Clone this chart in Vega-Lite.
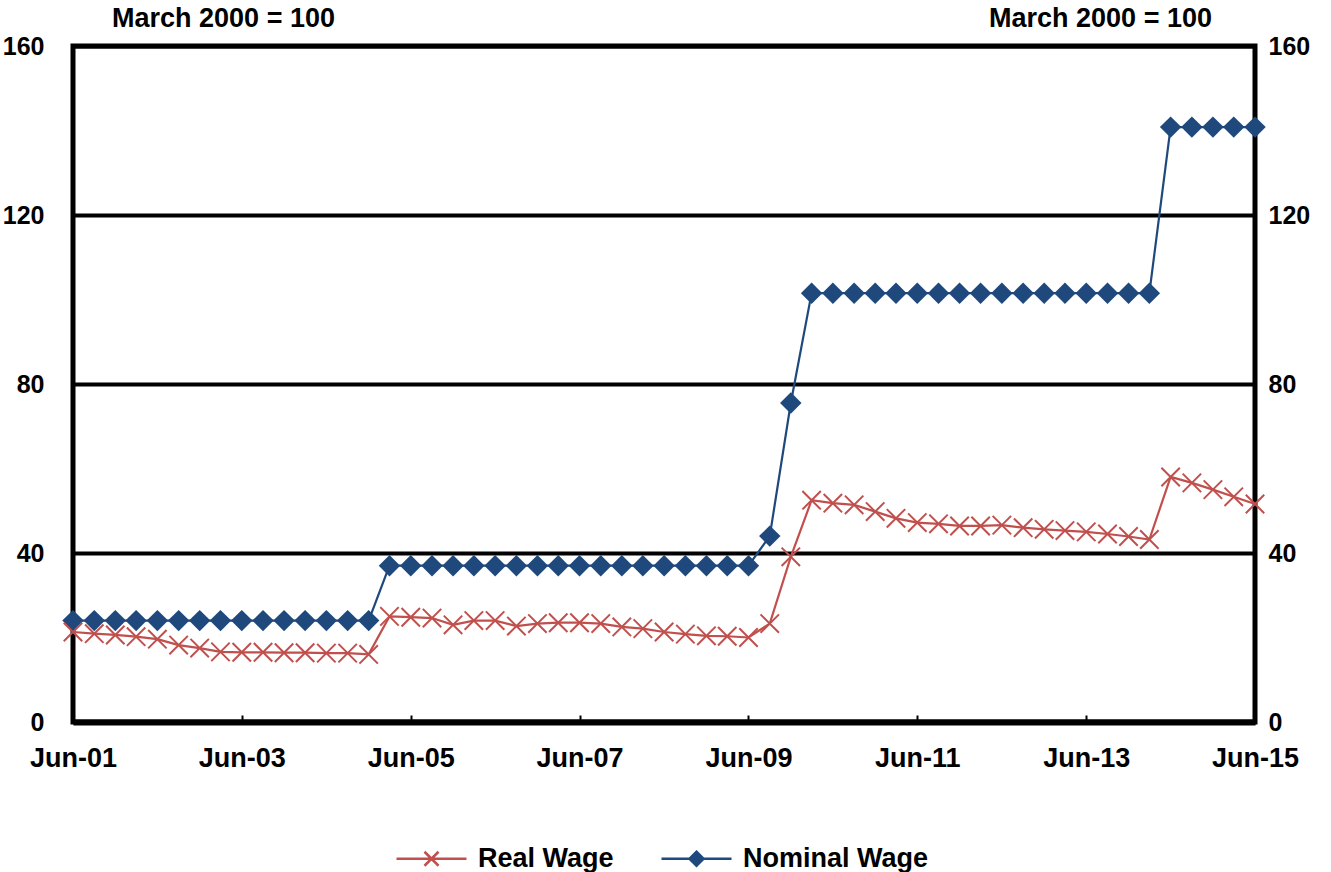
{
  "$schema": "https://vega.github.io/schema/vega-lite/v6.json",
  "width": 1182,
  "height": 676,
  "autosize": {"type": "none"},
  "padding": {"left": 73, "top": 46, "right": 76, "bottom": 150},
  "background": "white",
  "config": {
    "view": {"stroke": "black", "strokeWidth": 5},
    "font": "Liberation Sans",
    "axis": {"labelFont": "Liberation Sans", "labelFontWeight": "bold", "labelFontSize": 27, "labelColor": "black", "titleFont": "Liberation Sans", "titleFontWeight": "bold", "titleFontSize": 27, "titleColor": "black"}
  },
  "datasets": {
    "wages": [
      {"date": "2001/06/01", "real": 21.3, "nominal": 24},
      {"date": "2001/09/01", "real": 20.9, "nominal": 24},
      {"date": "2001/12/01", "real": 20.6, "nominal": 24},
      {"date": "2002/03/01", "real": 20.2, "nominal": 24},
      {"date": "2002/06/01", "real": 19.6, "nominal": 24},
      {"date": "2002/09/01", "real": 18.2, "nominal": 24},
      {"date": "2002/12/01", "real": 17.5, "nominal": 24},
      {"date": "2003/03/01", "real": 16.6, "nominal": 24},
      {"date": "2003/06/01", "real": 16.5, "nominal": 24},
      {"date": "2003/09/01", "real": 16.5, "nominal": 24},
      {"date": "2003/12/01", "real": 16.4, "nominal": 24},
      {"date": "2004/03/01", "real": 16.4, "nominal": 24},
      {"date": "2004/06/01", "real": 16.3, "nominal": 24},
      {"date": "2004/09/01", "real": 16.3, "nominal": 24},
      {"date": "2004/12/01", "real": 16.0, "nominal": 24},
      {"date": "2005/03/01", "real": 25.0, "nominal": 37},
      {"date": "2005/06/01", "real": 24.8, "nominal": 37},
      {"date": "2005/09/01", "real": 24.6, "nominal": 37},
      {"date": "2005/12/01", "real": 23.0, "nominal": 37},
      {"date": "2006/03/01", "real": 24.0, "nominal": 37},
      {"date": "2006/06/01", "real": 24.0, "nominal": 37},
      {"date": "2006/09/01", "real": 22.7, "nominal": 37},
      {"date": "2006/12/01", "real": 23.3, "nominal": 37},
      {"date": "2007/03/01", "real": 23.5, "nominal": 37},
      {"date": "2007/06/01", "real": 23.5, "nominal": 37},
      {"date": "2007/09/01", "real": 23.3, "nominal": 37},
      {"date": "2007/12/01", "real": 22.5, "nominal": 37},
      {"date": "2008/03/01", "real": 22.1, "nominal": 37},
      {"date": "2008/06/01", "real": 21.3, "nominal": 37},
      {"date": "2008/09/01", "real": 20.8, "nominal": 37},
      {"date": "2008/12/01", "real": 20.4, "nominal": 37},
      {"date": "2009/03/01", "real": 20.3, "nominal": 37},
      {"date": "2009/06/01", "real": 20.0, "nominal": 37},
      {"date": "2009/09/01", "real": 23.3, "nominal": 44},
      {"date": "2009/12/01", "real": 39.1, "nominal": 75.5},
      {"date": "2010/03/01", "real": 52.5, "nominal": 101.5},
      {"date": "2010/06/01", "real": 51.8, "nominal": 101.5},
      {"date": "2010/09/01", "real": 51.4, "nominal": 101.5},
      {"date": "2010/12/01", "real": 49.8, "nominal": 101.5},
      {"date": "2011/03/01", "real": 48.2, "nominal": 101.5},
      {"date": "2011/06/01", "real": 47.2, "nominal": 101.5},
      {"date": "2011/09/01", "real": 46.9, "nominal": 101.5},
      {"date": "2011/12/01", "real": 46.4, "nominal": 101.5},
      {"date": "2012/03/01", "real": 46.4, "nominal": 101.5},
      {"date": "2012/06/01", "real": 46.6, "nominal": 101.5},
      {"date": "2012/09/01", "real": 46.0, "nominal": 101.5},
      {"date": "2012/12/01", "real": 45.6, "nominal": 101.5},
      {"date": "2013/03/01", "real": 45.3, "nominal": 101.5},
      {"date": "2013/06/01", "real": 45.0, "nominal": 101.5},
      {"date": "2013/09/01", "real": 44.5, "nominal": 101.5},
      {"date": "2013/12/01", "real": 43.9, "nominal": 101.5},
      {"date": "2014/03/01", "real": 43.2, "nominal": 101.5},
      {"date": "2014/06/01", "real": 58.0, "nominal": 140.8},
      {"date": "2014/09/01", "real": 56.6, "nominal": 140.8},
      {"date": "2014/12/01", "real": 55.0, "nominal": 140.8},
      {"date": "2015/03/01", "real": 53.3, "nominal": 140.8},
      {"date": "2015/06/01", "real": 51.6, "nominal": 140.8}
    ]
  },
  "data": {"name": "wages"},
  "encoding": {
    "x": {
      "field": "date",
      "type": "temporal",
      "scale": {"domain": [{"year": 2001, "month": 6, "date": 1}, {"year": 2015, "month": 6, "date": 1}], "nice": false},
      "axis": {
        "title": null,
        "format": "%b-%y",
        "values": [
          {"year": 2001, "month": 6, "date": 1},
          {"year": 2003, "month": 6, "date": 1},
          {"year": 2005, "month": 6, "date": 1},
          {"year": 2007, "month": 6, "date": 1},
          {"year": 2009, "month": 6, "date": 1},
          {"year": 2011, "month": 6, "date": 1},
          {"year": 2013, "month": 6, "date": 1},
          {"year": 2015, "month": 6, "date": 1}
        ],
        "grid": false,
        "domainColor": "black",
        "domainWidth": 6,
        "ticks": true,
        "tickSize": -7,
        "tickWidth": 2,
        "tickColor": "black",
        "labelPadding": 30,
        "labelFlush": false,
        "labelOverlap": false,
        "labelBound": false
      }
    }
  },
  "layer": [
    {
      "transform": [{"fold": ["real", "nominal"], "as": ["key", "value"]}, {"calculate": "datum.key === 'real' ? 'Real Wage' : 'Nominal Wage'", "as": "series"}],
      "mark": {"type": "line", "strokeWidth": 2.2},
      "encoding": {
        "y": {
          "field": "value",
          "type": "quantitative",
          "scale": {"domain": [0, 160], "nice": false},
          "axis": {
            "orient": "left",
            "values": [0, 40, 80, 120, 160],
            "grid": true,
            "gridColor": "black",
            "gridWidth": 4,
            "gridOpacity": 1,
            "domain": false,
            "ticks": false,
            "labelFontSize": 25,
            "labelPadding": 29,
            "labelBaseline": "middle",
            "title": "March 2000 = 100",
            "titleAngle": 0,
            "titleX": 150,
            "titleY": -28,
            "titleAlign": "center",
            "titleBaseline": "middle"
          }
        },
        "color": {
          "field": "series",
          "type": "nominal",
          "scale": {"domain": ["Real Wage", "Nominal Wage"], "range": ["#C0504D", "#1F497D"]},
          "legend": {
            "title": null,
            "orient": "none",
            "direction": "horizontal",
            "legendX": 322,
            "legendY": 776,
            "columnPadding": 42,
            "labelOffset": 10,
            "labelLimit": 0,
            "labelFont": "Liberation Sans",
            "labelFontWeight": "bold",
            "labelFontSize": 27,
            "labelColor": "black",
            "symbolSize": 4900,
            "symbolStrokeWidth": 2.5,
            "encode": {
              "symbols": {
                "update": {
                  "shape": [
                    {"test": "datum.value === 'Real Wage'", "value": "M-1,0H1M-0.2,-0.2L0.2,0.2M-0.2,0.2L0.2,-0.2"},
                    {"value": "M-1,0H1M0,-0.2L0.2,0L0,0.2L-0.2,0Z"}
                  ],
                  "fill": [
                    {"test": "datum.value === 'Real Wage'", "value": "transparent"},
                    {"value": "#1F497D"}
                  ],
                  "stroke": [
                    {"test": "datum.value === 'Real Wage'", "value": "#C0504D"},
                    {"value": "#1F497D"}
                  ],
                  "strokeWidth": {"value": 2.5},
                  "size": {"value": 4900},
                  "opacity": {"value": 1}
                }
              }
            }
          }
        }
      }
    },
    {
      "mark": {"type": "point", "shape": "diamond", "filled": true, "size": 460, "color": "#1F497D", "opacity": 1},
      "encoding": {
        "y": {
          "field": "nominal",
          "type": "quantitative",
          "scale": {"domain": [0, 160], "nice": false},
          "axis": {
            "orient": "right",
            "values": [0, 40, 80, 120, 160],
            "grid": false,
            "domain": false,
            "ticks": false,
            "labelFontSize": 25,
            "labelPadding": 13,
            "labelBaseline": "middle",
            "title": "March 2000 = 100",
            "titleAngle": 0,
            "titleX": -155,
            "titleY": -28,
            "titleAlign": "center",
            "titleBaseline": "middle"
          }
        }
      }
    },
    {
      "mark": {"type": "point", "shape": "M-1,-1L1,1M-1,1L1,-1", "filled": false, "size": 340, "color": "#C0504D", "strokeWidth": 2, "opacity": 1},
      "encoding": {
        "y": {
          "field": "real",
          "type": "quantitative",
          "scale": {"domain": [0, 160], "nice": false},
          "axis": null
        }
      }
    }
  ],
  "resolve": {"scale": {"y": "independent"}}
}
